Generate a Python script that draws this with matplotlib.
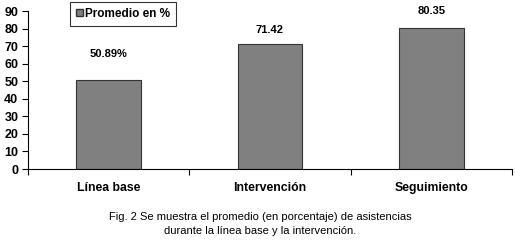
import matplotlib
matplotlib.use("Agg")
import matplotlib.pyplot as plt
from matplotlib.patches import Patch

categories = ["Línea base", "Intervención", "Seguimiento"]
values = [50.89, 71.42, 80.35]
value_labels = ["50.89%", "71.42", "80.35"]
yticks = [0, 10, 20, 30, 40, 50, 60, 70, 80, 90]
legend_label = "Promedio en %"
caption = ("Fig. 2 Se muestra el promedio (en porcentaje) de asistencias\n"
           "durante la línea base y la intervención.")

label_offsets = [18.5, 10, 12]  # points above bar top (style)

plt.rcParams['font.family'] = ['Liberation Sans', 'DejaVu Sans']

fig = plt.figure(figsize=(5.15, 2.4), dpi=100)
ax = fig.add_axes([28/515, 71/240, (512-28)/515, 158/240])

x = list(range(len(categories)))
bars = ax.bar(x, values, width=0.4, color="#808080", edgecolor="#333333", linewidth=0.8)

ax.set_xlim(-0.5, len(categories) - 0.5)
ax.set_ylim(0, 90)
ax.set_yticks(yticks)
ax.set_yticklabels([str(t) for t in yticks], fontsize=9, fontweight="bold")
ax.set_xticks([i - 0.5 for i in range(len(categories) + 1)])
ax.set_xticklabels([])
ax.tick_params(axis="x", direction="out", length=4, width=0.8)
ax.tick_params(axis="y", direction="out", length=4, width=0.8, pad=3)
for i, c in enumerate(categories):
    ax.annotate(c, xy=(i, 0), xytext=(0, -13.5), textcoords="offset points",
                ha="center", va="center", fontsize=8.8, fontweight="bold")

for spine in ["top", "right"]:
    ax.spines[spine].set_visible(False)
ax.spines["left"].set_linewidth(0.8)
ax.spines["bottom"].set_linewidth(0.8)

for b, lab, off in zip(bars, value_labels, label_offsets):
    ax.annotate(lab, xy=(b.get_x() + b.get_width()/2, b.get_height()),
                xytext=(0, off), textcoords="offset points",
                ha="center", va="center", fontsize=8, fontweight="bold")

leg = fig.legend(handles=[Patch(facecolor="#808080", edgecolor="#333333", label=legend_label)],
                 loc="upper left", bbox_to_anchor=(70/515, 1 - 2/240),
                 prop={"weight": "bold", "size": 8.5}, frameon=True, fancybox=False,
                 handlelength=0.6, handleheight=0.6, handletextpad=0.2,
                 borderpad=0.5, borderaxespad=0)
leg.get_frame().set_edgecolor("#000000")
leg.get_frame().set_linewidth(0.8)

fig.text(0.505, 1 - 223.5/240, caption, ha="center", va="center", fontsize=8,
         linespacing=1.5)

fig.savefig("out.png", dpi=100)
